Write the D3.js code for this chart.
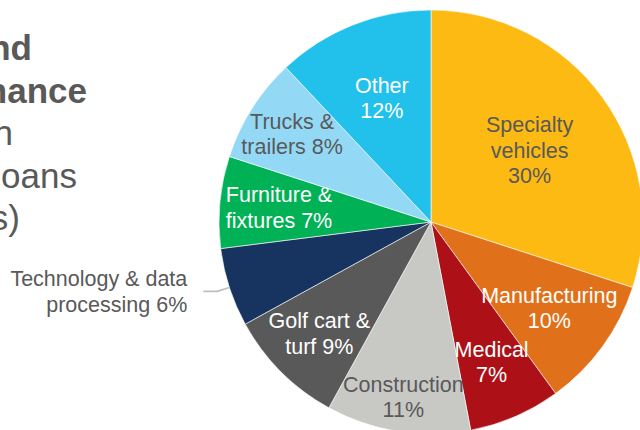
<!DOCTYPE html>
<html>
<head>
<meta charset="utf-8">
<script src="https://cdn.jsdelivr.net/npm/d3@7"></script>
<style>
  body { margin: 0; background: #fff; }
  text { font-family: "Liberation Sans", Arial, sans-serif; }
</style>
</head>
<body>
<div id="chart"></div>
<script>
"use strict";

// slice data, clockwise from 12 o'clock
const categories = ["Specialty vehicles", "Manufacturing", "Medical", "Construction",
  "Golf cart & turf", "Technology & data processing", "Furniture & fixtures",
  "Trucks & trailers", "Other"];
const shares = [30, 10, 7, 11, 9, 6, 7, 8, 12];
const labelLines = [
  ["Specialty", "vehicles", "30%"],
  ["Manufacturing", "10%"],
  ["Medical", "7%"],
  ["Construction", "11%"],
  ["Golf cart &", "turf 9%"],
  ["Technology & data", "processing 6%"],
  ["Furniture &", "fixtures 7%"],
  ["Trucks &", "trailers 8%"],
  ["Other", "12%"]
];
const sliceColors = ["#fcba12", "#e0701a", "#ad1017", "#c8c8c4", "#595959",
  "#17335f", "#00b156", "#93d9f6", "#21c1ec"];
const labelColors = ["#595959", "#fff", "#fff", "#595959", "#fff",
  "#595959", "#fff", "#595959", "#fff"];
// where each label sits, as a fraction of the radius (Excel "best fit")
const labelRadius = [0.575, 0.69, 0.72, 0.835, 0.745, 0, 0.72, 0.776, 0.63];
const outsideLabel = 5; // technology label sits outside with a leader line

// left heading, mostly cut off by the frame
const titleLines = ["Equipment and", "Finance", "Portfolio (in", "loans", "millions)"];
const titleBold = [true, true, false, false, false];
const titleEndX = [32, 87, 13, 77, 20];

const msm = {
  width: 640,
  height: 430,
  cx: 431,
  cy: 222,
  radius: 212,
  fontSize: 21.5,
  lineH: 25.5
};

const svg = d3.select("#chart")
  .append("svg")
  .attr("width", msm.width)
  .attr("height", msm.height);

// heading
svg.append("g").selectAll("text")
  .data(titleLines)
  .enter()
  .append("text")
    .attr("x", (d, i) => titleEndX[i])
    .attr("y", (d, i) => 60 + i * 42.5)
    .attr("text-anchor", "end")
    .style("font-size", "35px")
    .style("font-weight", (d, i) => titleBold[i] ? "bold" : "normal")
    .attr("fill", "#595959")
    .text(d => d);

const pie = d3.pie().sort(null).value(d => d);
const arcs = pie(shares);
const arc = d3.arc().innerRadius(0).outerRadius(msm.radius);

const g = svg.append("g")
  .attr("transform", `translate(${msm.cx},${msm.cy})`);

g.selectAll("path")
  .data(arcs)
  .enter()
  .append("path")
    .attr("d", arc)
    .attr("fill", (d, i) => sliceColors[i])
    .attr("stroke", "#fff")
    .attr("stroke-width", 0.6);

// labels
arcs.forEach((d, i) => {
  let lines = labelLines[i];
  let pos, anchor = "middle";
  if (i === outsideLabel) {
    // leader line: arc edge -> elbow -> horizontal
    let mid = (d.startAngle + d.endAngle) / 2;
    let p0 = [Math.sin(mid) * msm.radius, -Math.cos(mid) * msm.radius];
    let p1 = [Math.sin(mid) * msm.radius * 1.06, -Math.cos(mid) * msm.radius * 1.06];
    let p2 = [p1[0] - 14, p1[1]];
    g.append("path")
      .attr("d", d3.line()([p0, p1, p2]))
      .attr("fill", "none")
      .attr("stroke", "#bfbfbf")
      .attr("stroke-width", 1.8);
    pos = [p2[0] - 16, p2[1]];
    anchor = "end";
  } else {
    let r = msm.radius * labelRadius[i];
    pos = d3.arc().innerRadius(r).outerRadius(r).centroid(d);
  }
  let t = g.append("text")
    .attr("x", pos[0])
    .attr("y", pos[1])
    .attr("text-anchor", anchor)
    .attr("fill", labelColors[i])
    .style("font-size", msm.fontSize + "px");
  lines.forEach((line, j) => {
    t.append("tspan")
      .attr("x", pos[0])
      .attr("y", pos[1] + (j - (lines.length - 1) / 2) * msm.lineH + msm.fontSize * 0.35)
      .text(line);
  });
});
</script>
</body>
</html>
